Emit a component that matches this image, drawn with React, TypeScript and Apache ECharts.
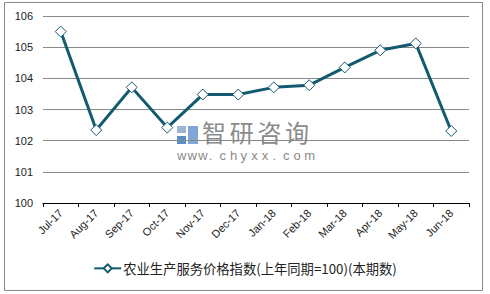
import React, { useEffect, useRef } from "react";
import * as echarts from "echarts";

const categories = ["Jul-17", "Aug-17", "Sep-17", "Oct-17", "Nov-17", "Dec-17", "Jan-18", "Feb-18", "Mar-18", "Apr-18", "May-18", "Jun-18"];
const values = [105.5, 102.34, 103.71, 102.42, 103.48, 103.48, 103.71, 103.78, 104.35, 104.9, 105.12, 102.31];
const seriesName = "农业生产服务价格指数(上年同期=100)(本期数)";
const yMin = 100;
const yMax = 106;
const yInterval = 1;
const watermarkTitle = "智研咨询";
const watermarkUrl = "www.chyxx.com";

export default function App() {
  const ref = useRef<HTMLDivElement>(null);
  useEffect(() => {
    const chart = echarts.init(ref.current!, null, { renderer: "svg" });
    const font = "'Liberation Sans', Arial, 'Noto Sans CJK SC', sans-serif";
    const titleChars = watermarkTitle.split("").map((ch, i) => ({
      type: "text",
      x: 202 + i * 27.7,
      y: 123,
      style: { text: ch, fill: "#8a8a8a", fontSize: 24, lineHeight: 20, fontFamily: "'Liberation Sans', 'Noto Sans CJK SC', sans-serif" },
      silent: true,
    }));
    const urlChars = watermarkUrl.split("").map((ch, i) => ({
      type: "text",
      x: 177 + i * 10.6,
      y: 149,
      style: { text: ch, fill: "#8a8a8a", fontSize: 13, lineHeight: 12, fontFamily: "'Liberation Sans', Arial, sans-serif" },
      silent: true,
    }));
    chart.setOption({
      animation: false,
      textStyle: { fontFamily: font },
      grid: { left: 43, right: 21, top: 16, bottom: 91, containLabel: false },
      xAxis: {
        type: "category",
        data: categories,
        boundaryGap: true,
        axisLine: { show: true, lineStyle: { color: "#000", width: 1 } },
        axisTick: { show: true, length: 4, lineStyle: { color: "#000" } },
        axisLabel: { rotate: 45, color: "#222", fontSize: 11, margin: 8, interval: 0, fontFamily: font },
        splitLine: { show: false },
      },
      yAxis: {
        type: "value",
        min: yMin,
        max: yMax,
        interval: yInterval,
        axisLine: { show: false },
        axisTick: { show: false },
        axisLabel: { color: "#222", fontSize: 11, margin: 10, fontFamily: font },
        splitLine: { show: true, lineStyle: { color: "#888", width: 1 } },
      },
      legend: {
        show: true,
        bottom: 14,
        left: "center",
        itemWidth: 27,
        itemHeight: 10,
        itemGap: 2,
        textStyle: { color: "#222", fontSize: 13.3, fontFamily: "'Noto Sans CJK SC', sans-serif", padding: [0, 0, 0, -3] },
        data: [{ name: seriesName }],
      },
      graphic: [
        {
          type: "rect",
          shape: { x: 4.5, y: 2.5, width: 478, height: 288 },
          style: { fill: "none", stroke: "#888", lineWidth: 1 },
          silent: true,
        },
        {
          type: "rect",
          shape: { x: 177, y: 126, width: 9, height: 7 },
          style: { fill: "#9fb6d3" },
          silent: true,
        },
        {
          type: "rect",
          shape: { x: 177, y: 136, width: 9, height: 8 },
          style: { fill: "#5b8fc7" },
          silent: true,
        },
        {
          type: "rect",
          shape: { x: 188, y: 126, width: 10, height: 18 },
          style: { fill: "#7fa6d4" },
          silent: true,
        },
        ...titleChars,
        ...urlChars,
      ],
      series: [
        {
          name: seriesName,
          type: "line",
          data: values,
          symbol: "diamond",
          symbolSize: 11,
          lineStyle: { color: "#125a70", width: 3 },
          itemStyle: { color: "#fff", borderColor: "#125a70", borderWidth: 1 },
          z: 3,
        },
      ],
    });
    return () => chart.dispose();
  }, []);
  return (
    <div
      ref={ref}
      style={{ position: "fixed", left: 0, top: 0, width: 490, height: 294, background: "#fff" }}
    />
  );
}
